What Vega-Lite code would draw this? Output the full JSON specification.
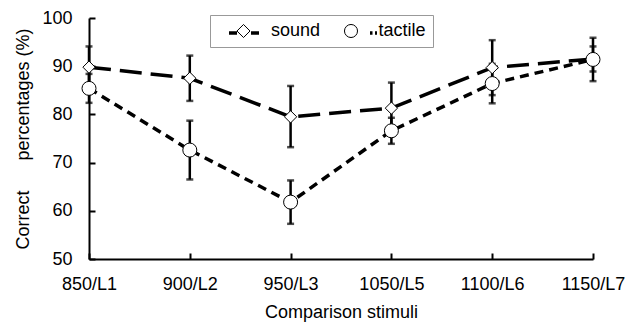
{
  "$schema": "https://vega.github.io/schema/vega-lite/v6.json",
  "autosize": {"type": "none"},
  "width": 504,
  "height": 241,
  "padding": {"left": 89, "top": 18, "right": 34, "bottom": 68},
  "background": "white",
  "config": {
    "view": {"stroke": null},
    "font": "Liberation Sans",
    "axis": {"grid": false, "labelFont": "Liberation Sans", "titleFont": "Liberation Sans", "labelColor": "black", "titleColor": "black", "labelFontSize": 18, "titleFontSize": 18, "titleFontWeight": "normal", "domainColor": "black", "domainWidth": 2, "tickColor": "black", "tickWidth": 2, "tickSize": -6},
    "axisY": {"labelPadding": 23, "titlePadding": 9},
    "axisX": {"labelPadding": 22, "titlePadding": 10}
  },
  "data": {
    "values": [
      {"stim": "850/L1", "series": "sound", "value": 89.8, "lo": 85.5, "hi": 94.1},
      {"stim": "900/L2", "series": "sound", "value": 87.5, "lo": 82.8, "hi": 92.2},
      {"stim": "950/L3", "series": "sound", "value": 79.5, "lo": 73.2, "hi": 85.9},
      {"stim": "1050/L5", "series": "sound", "value": 81.3, "lo": 76.0, "hi": 86.6},
      {"stim": "1100/L6", "series": "sound", "value": 89.7, "lo": 84.0, "hi": 95.4},
      {"stim": "1150/L7", "series": "sound", "value": 91.5, "lo": 88.9, "hi": 94.1},
      {"stim": "850/L1", "series": "tactile", "value": 85.4, "lo": 82.4, "hi": 88.4},
      {"stim": "900/L2", "series": "tactile", "value": 72.6, "lo": 66.5, "hi": 78.7},
      {"stim": "950/L3", "series": "tactile", "value": 61.8, "lo": 57.3, "hi": 66.3},
      {"stim": "1050/L5", "series": "tactile", "value": 76.6, "lo": 73.9, "hi": 79.3},
      {"stim": "1100/L6", "series": "tactile", "value": 86.4, "lo": 82.3, "hi": 90.5},
      {"stim": "1150/L7", "series": "tactile", "value": 91.4, "lo": 86.9, "hi": 95.9}
    ]
  },
  "encoding": {
    "x": {
      "field": "stim", "type": "ordinal",
      "sort": ["850/L1", "900/L2", "950/L3", "1050/L5", "1100/L6", "1150/L7"],
      "scale": {"type": "point", "padding": 0},
      "axis": {"labelAngle": 0, "title": "Comparison stimuli"}
    }
  },
  "layer": [
    {
      "mark": {"type": "rule", "color": "black", "strokeWidth": 2.5},
      "encoding": {
        "y": {"field": "lo", "type": "quantitative", "scale": {"domain": [50, 100], "nice": false, "zero": false},
          "axis": {"values": [50, 60, 70, 80, 90, 100], "title": "Correct\u00a0\u00a0\u00a0\u00a0\u00a0\u00a0percentages (%)"}},
        "y2": {"field": "hi"}
      }
    },
    {
      "mark": {"type": "tick", "color": "black", "size": 7, "thickness": 2.5, "orient": "horizontal"},
      "encoding": {"y": {"field": "lo", "type": "quantitative"}}
    },
    {
      "mark": {"type": "tick", "color": "black", "size": 7, "thickness": 2.5, "orient": "horizontal"},
      "encoding": {"y": {"field": "hi", "type": "quantitative"}}
    },
    {
      "transform": [{"filter": "datum.series == 'sound'"}],
      "mark": {"type": "line", "color": "black", "strokeWidth": 3.5, "strokeDash": [22, 9]},
      "encoding": {"y": {"field": "value", "type": "quantitative"}}
    },
    {
      "transform": [{"filter": "datum.series == 'tactile'"}],
      "mark": {"type": "line", "color": "black", "strokeWidth": 3.5, "strokeDash": [9, 6]},
      "encoding": {"y": {"field": "value", "type": "quantitative"}}
    },
    {
      "mark": {"type": "point", "filled": true, "fill": "white", "stroke": "black", "strokeWidth": 1, "opacity": 1},
      "encoding": {
        "y": {"field": "value", "type": "quantitative"},
        "shape": {"field": "series", "type": "nominal", "scale": {"domain": ["sound", "tactile"], "range": ["diamond", "circle"]}, "legend": null},
        "size": {"field": "series", "type": "nominal", "scale": {"domain": ["sound", "tactile"], "range": [150, 196]}, "legend": null}
      }
    },
    {
      "transform": [{"filter": "datum.value < 0"}],
      "mark": {"type": "line", "color": "black", "strokeWidth": 3.5},
      "encoding": {
        "strokeDash": {
          "field": "series", "type": "nominal",
          "scale": {"domain": ["sound", "tactile"], "range": [[8, 14, 8, 100], [7, 16, 2.5, 2.5, 2, 100]]},
          "legend": {
            "orient": "none", "legendX": 138, "legendY": -2, "direction": "horizontal", "title": null,
            "padding": 0, "symbolSize": 900, "symbolStrokeWidth": 3.5, "symbolStrokeColor": "black",
            "labelFontSize": 18, "labelFont": "Liberation Sans", "labelColor": "black", "labelOpacity": 0, "labelOffset": 10, "columnPadding": 19
          }
        }
      }
    },
    {
      "transform": [{"filter": "datum.value < 0"}],
      "mark": {"type": "point", "filled": true, "fill": "white", "stroke": "black", "strokeWidth": 1, "opacity": 1},
      "encoding": {
        "shape": {
          "field": "series", "type": "nominal",
          "scale": {"domain": ["sound", "tactile"], "range": ["diamond", "circle"]},
          "legend": {
            "orient": "none", "legendX": 121, "legendY": -3, "direction": "horizontal",
            "title": "\u00a0", "titleOrient": "left", "titleFontSize": 18, "titlePadding": 17.5,
            "strokeColor": "#999999", "padding": 7, "symbolSize": 170, "symbolStrokeWidth": 1,
            "labelFontSize": 18, "labelFont": "Liberation Sans", "labelColor": "black", "labelOffset": 18.5, "columnPadding": 21.5
          }
        }
      }
    }
  ],
  "resolve": {"scale": {"shape": "independent", "size": "independent"}}
}
